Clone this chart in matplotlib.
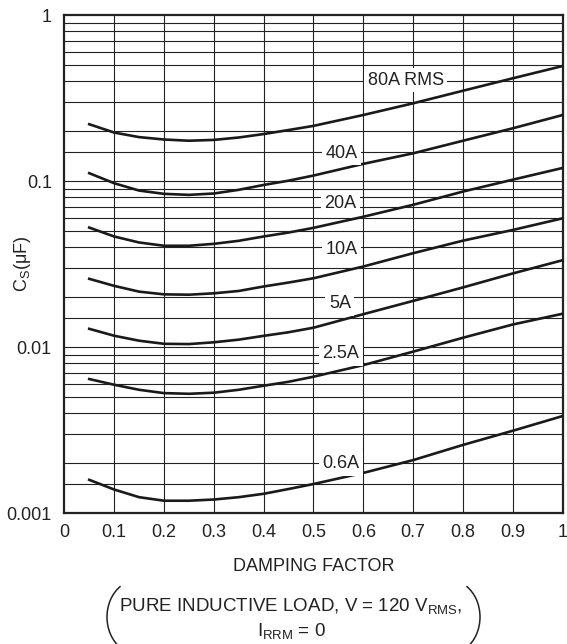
import matplotlib.pyplot as plt
from matplotlib.patches import Arc
from matplotlib.ticker import FixedLocator, FixedFormatter

plt.rcParams['font.family'] = ['Liberation Sans', 'DejaVu Sans']
plt.rcParams['mathtext.default'] = 'regular'

damping = [0.05, 0.1, 0.15, 0.2, 0.25, 0.3, 0.35, 0.4, 0.45, 0.5, 0.6, 0.7, 0.8, 0.9, 1.0]

cs_80a = [0.22, 0.196, 0.184, 0.178, 0.175, 0.177, 0.183, 0.192, 0.203, 0.215, 0.25, 0.294, 0.35, 0.416, 0.493]
cs_40a = [0.1116, 0.0971, 0.0877, 0.0838, 0.0826, 0.0842, 0.0886, 0.0948, 0.1006, 0.108, 0.127, 0.147, 0.175, 0.208, 0.25]
cs_20a = [0.0525, 0.0464, 0.0427, 0.0408, 0.0408, 0.0419, 0.0437, 0.0464, 0.049, 0.0523, 0.061, 0.072, 0.0865, 0.102, 0.12]
cs_10a = [0.0258, 0.0234, 0.0216, 0.0208, 0.0207, 0.0211, 0.0218, 0.0232, 0.0245, 0.026, 0.0306, 0.0368, 0.0438, 0.0508, 0.0597]
cs_5a = [0.0129, 0.01172, 0.01094, 0.01048, 0.01044, 0.0107, 0.0111, 0.0117, 0.0123, 0.0131, 0.0158, 0.019, 0.0229, 0.0278, 0.0334]
cs_2_5a = [0.00643, 0.00594, 0.00554, 0.00529, 0.00524, 0.00532, 0.00554, 0.00586, 0.00619, 0.00664, 0.0078, 0.0094, 0.0114, 0.0137, 0.0159]
cs_0_6a = [0.00159, 0.00139, 0.00125, 0.00119, 0.00119, 0.00121, 0.00125, 0.00131, 0.0014, 0.0015, 0.00175, 0.00209, 0.00258, 0.00314, 0.00385]

curves = [cs_80a, cs_40a, cs_20a, cs_10a, cs_5a, cs_2_5a, cs_0_6a]
labels = ["80A RMS", "40A", "20A", "10A", "5A", "2.5A", "0.6A"]
label_x = [0.685, 0.557, 0.554, 0.557, 0.553, 0.555, 0.555]
label_y = [0.405, 0.147, 0.0737, 0.0388, 0.0183, 0.0091, 0.00198]

x_ticks = [0, 0.1, 0.2, 0.3, 0.4, 0.5, 0.6, 0.7, 0.8, 0.9, 1]
x_ticklabels = ["0", "0.1", "0.2", "0.3", "0.4", "0.5", "0.6", "0.7", "0.8", "0.9", "1"]
y_ticks = [0.001, 0.01, 0.1, 1]
y_ticklabels = ["0.001", "0.01", "0.1", "1"]
grid_mult = [1, 1.5, 2, 3, 4, 5, 6, 7, 8, 9]

FS = 13
INK = '#222222'

fig = plt.figure(figsize=(5.67, 6.44), dpi=100)
ax = fig.add_axes([0.1134, 0.2030, 0.879, 0.7737])
ax.set_yscale('log')
ax.set_xlim(0, 1)
ax.set_ylim(0.001, 1)

# grid
for d in [0.001, 0.01, 0.1]:
    for m in grid_mult:
        ax.axhline(d * m, color=INK, lw=0.8, zorder=1)
for xv in x_ticks[1:-1]:
    ax.axvline(xv, color=INK, lw=0.8, zorder=1)

for ys in curves:
    ax.plot(damping, ys, color='#1a1a1a', lw=1.9, zorder=3)

for txt, lx, ly in zip(labels, label_x, label_y):
    ax.text(lx, ly, txt, ha='center', va='center', fontsize=FS, color=INK, zorder=4,
            bbox=dict(facecolor='white', edgecolor='none', pad=2.5))

ax.xaxis.set_major_locator(FixedLocator(x_ticks))
ax.xaxis.set_major_formatter(FixedFormatter(x_ticklabels))
ax.yaxis.set_major_locator(FixedLocator(y_ticks))
ax.yaxis.set_major_formatter(FixedFormatter(y_ticklabels))
ax.yaxis.set_minor_locator(FixedLocator([]))
ax.tick_params(length=0, labelsize=FS, colors=INK)
ax.tick_params(axis='x', pad=8)
ax.tick_params(axis='y', pad=9)

for s in ax.spines.values():
    s.set_linewidth(1.6)
    s.set_color(INK)

ax.set_xlabel("DAMPING FACTOR", fontsize=FS, color=INK, labelpad=12)
ax.set_ylabel("C$_S$(\u03bcF)", fontsize=FS, color=INK)
ax.yaxis.set_label_coords(-0.063, 0.5)

fig.text(291 / 567, 1 - 606 / 644, "PURE INDUCTIVE LOAD, V = 120 V$_{RMS}$,",
         ha='center', va='center', fontsize=13.5, color=INK)
fig.text(291 / 567, 1 - 631 / 644, "I$_{RRM}$ = 0",
         ha='center', va='center', fontsize=13.5, color=INK)

# big parentheses around the note
W, H = 567.0, 644.0
fig.add_artist(Arc((137.5 / W, 1 - 617 / H), 61 / W, 74 / H, theta1=122, theta2=238,
                   transform=fig.transFigure, color=INK, lw=1.1))
fig.add_artist(Arc((449.5 / W, 1 - 617 / H), 61 / W, 74 / H, theta1=-58, theta2=58,
                   transform=fig.transFigure, color=INK, lw=1.1))

fig.savefig("out.png", dpi=100)
